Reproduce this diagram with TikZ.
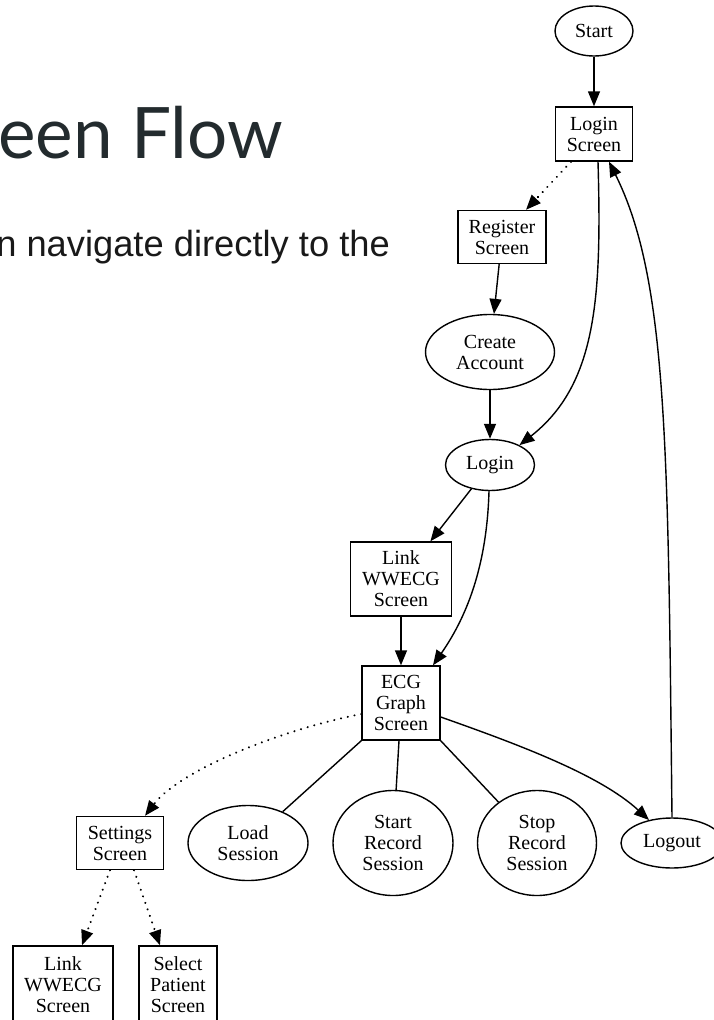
\documentclass[tikz,border=0pt]{standalone}
\usepackage{fontspec}
\setmainfont{Liberation Serif}
\newfontfamily\titlefont{Lato}
\newfontfamily\subfont{Liberation Sans}
\usetikzlibrary{shapes.geometric,arrows.meta}
\definecolor{titlegray}{HTML}{232B2E}
\begin{document}
\begin{tikzpicture}[x=1pt,y=-1pt,
  every node/.style={font=\fontsize{20}{21}\selectfont, align=center, inner sep=0pt},
  boxnode/.style={draw, rectangle, line width=1.4pt},
  ovalnode/.style={draw, ellipse, line width=1.4pt},
  conn/.style={line width=1.4pt, -{Triangle[length=15pt,width=12pt]}},
  plain/.style={line width=1.4pt},
  dotconn/.style={conn, line cap=round, dash pattern=on 0.1pt off 6.8pt, line width=2.2pt}
]
\path[use as bounding box, clip] (0,0) rectangle (714,1020);
\fill[white] (0,0) rectangle (714,1020);

% header texts
\node[anchor=base east, font=\titlefont\fontsize{71}{80}\selectfont, text=titlegray] (title) at (283,158) {een Flow};
\node[anchor=base east, font=\subfont\fontsize{36.3}{40}\selectfont, text=black!90] (subtitle) at (390,256) {n navigate directly to the};

% nodes
\node[ovalnode, minimum width=78pt, minimum height=50pt] (start) at (594,31) {Start};
\node[boxnode, minimum width=77pt, minimum height=54pt] (loginscr) at (594,134) {Login\\Screen};
\node[boxnode, minimum width=88pt, minimum height=53pt] (register) at (502,237) {Register\\Screen};
\node[ovalnode, minimum width=129pt, minimum height=75pt] (create) at (490,352) {Create\\Account};
\node[ovalnode, minimum width=89pt, minimum height=51pt] (login) at (490,465) {Login};
\node[boxnode, minimum width=101pt, minimum height=74pt] (link) at (401,579) {Link\\WWECG\\Screen};
\node[boxnode, minimum width=78pt, minimum height=74pt] (ecg) at (401,703) {ECG\\Graph\\Screen};
\node[boxnode, minimum width=87pt, minimum height=53pt] (settings) at (120,843) {Settings\\Screen};
\node[ovalnode, minimum width=120pt, minimum height=75pt] (load) at (248,843) {Load\\Session};
\node[ovalnode, minimum width=120pt, minimum height=105pt] (startrec) at (393,843) {Start\\Record\\Session};
\node[ovalnode, minimum width=119pt, minimum height=105pt] (stoprec) at (537,843) {Stop\\Record\\Session};
\node[ovalnode, minimum width=102pt, minimum height=50pt] (logout) at (672,843) {Logout};
\node[boxnode, minimum width=100pt, minimum height=78pt] (link2) at (63,985) {Link\\WWECG\\Screen};
\node[boxnode, minimum width=78pt, minimum height=78pt] (select) at (178,985) {Select\\Patient\\Screen};

% connectors
\draw[conn] (start) -- (loginscr);
\draw[dotconn] ([xshift=-23pt]loginscr.south) -- ([xshift=24pt]register.north);
\draw[conn] ([xshift=4pt]loginscr.south) .. controls (602,300) and (596,385) .. (login.34);
\draw[conn] (logout.north) .. controls (668,450) and (668,280) .. ([xshift=15pt]loginscr.south);
\draw[conn] (register) -- (create);
\draw[conn] (create) -- (login);
\draw[conn] (login) -- (link);
\draw[conn] ([xshift=-1pt]login.south) .. controls (487,560) and (470,612) .. ([xshift=32pt]ecg.north);
\draw[conn] (link) -- (ecg);
\draw[dotconn] ([yshift=-11pt]ecg.west) .. controls (280,730) and (180,770) .. ([xshift=25pt]settings.north);
\draw[plain] (ecg.south west) -- (load);
\draw[plain] ([xshift=-2pt]ecg.south) -- (startrec);
\draw[plain] (ecg.south east) -- (stoprec);
\draw[conn] ([yshift=-14pt]ecg.east) .. controls (520,745) and (600,775) .. (logout.135);
\draw[dotconn] ([xshift=-10pt]settings.south) -- ([xshift=19pt]link2.north);
\draw[dotconn] ([xshift=14pt]settings.south) -- ([xshift=-18pt]select.north);
\end{tikzpicture}
\end{document}
